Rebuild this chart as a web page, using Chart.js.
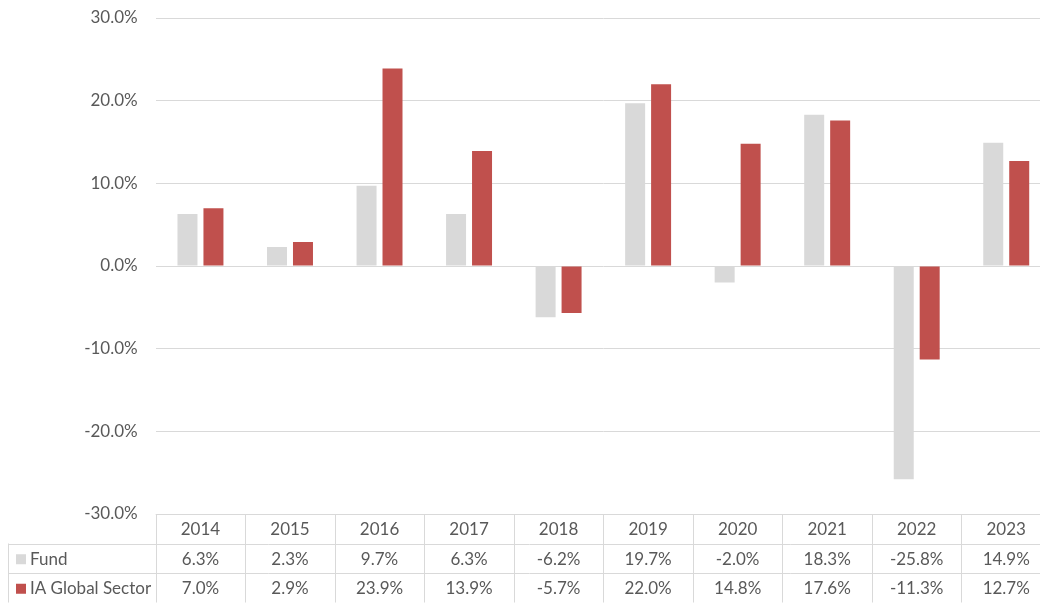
<!DOCTYPE html>
<html>
<head>
<meta charset="utf-8">
<script src="https://cdn.jsdelivr.net/npm/chart.js@4.4.0/dist/chart.umd.min.js"></script>
<style>
  html, body { margin: 0; padding: 0; background: #fff; overflow: hidden; }
  #wrap { position: relative; width: 1051px; height: 603px; }
</style>
</head>
<body>
<div id="wrap"><canvas id="perfChart"></canvas></div>
<script>
const years = ["2014", "2015", "2016", "2017", "2018", "2019", "2020", "2021", "2022", "2023"];
const fundReturns = [6.3, 2.3, 9.7, 6.3, -6.2, 19.7, -2.0, 18.3, -25.8, 14.9];
const sectorReturns = [7.0, 2.9, 23.9, 13.9, -5.7, 22.0, 14.8, 17.6, -11.3, 12.7];
const yTicks = [-30, -20, -10, 0, 10, 20, 30];

const FONT = "Lato, sans-serif";
const FONT_SIZE = 17;
const TEXT = "#595959";
const LINE = "#d9d9d9";
const FUND_COLOR = "#d9d9d9";
const SECTOR_COLOR = "#c0504d";

function pct(v) {
  return `${v.toFixed(1)}%`;
}

// Excel-style data table under the plot, aligned to the category scale
const dataTable = {
  id: "dataTable",
  afterDraw(chart) {
    const ctx = chart.ctx;
    const x = chart.scales.x;
    const area = chart.chartArea;
    const rowH = 29.5;
    const top = area.bottom;
    const left = 8;
    const step = x.getPixelForValue(1) - x.getPixelForValue(0);
    const rows = [
      { label: "Fund", color: FUND_COLOR, values: fundReturns },
      { label: "IA Global Sector", color: SECTOR_COLOR, values: sectorReturns },
    ];

    ctx.save();
    ctx.strokeStyle = LINE;
    ctx.lineWidth = 1;

    const hLine = (x0, x1, y) => {
      ctx.beginPath();
      ctx.moveTo(x0, Math.round(y) + 0.5);
      ctx.lineTo(x1, Math.round(y) + 0.5);
      ctx.stroke();
    };
    hLine(area.left, area.right, top);
    hLine(left, area.right, top + rowH);
    hLine(left, area.right, top + rowH * 2);
    hLine(left, area.right, top + rowH * 3);

    const vLine = (px, y0, y1) => {
      ctx.beginPath();
      ctx.moveTo(Math.round(px) + 0.5, y0);
      ctx.lineTo(Math.round(px) + 0.5, y1);
      ctx.stroke();
    };
    vLine(left, top + rowH, top + rowH * 3);
    for (let i = 0; i <= years.length; i++) {
      vLine(x.getPixelForValue(i) - step / 2, top, top + rowH * 3);
    }

    ctx.font = `${FONT_SIZE}px ${FONT}`;
    ctx.fillStyle = TEXT;
    ctx.textBaseline = "middle";
    ctx.textAlign = "center";
    years.forEach((yr, i) => {
      ctx.fillText(yr, x.getPixelForValue(i), top + rowH / 2 + 1);
    });

    rows.forEach((row, r) => {
      const cy = top + rowH * (r + 1) + rowH / 2 + 1;
      ctx.fillStyle = row.color;
      ctx.fillRect(16, cy - 5, 10, 10);
      ctx.fillStyle = TEXT;
      ctx.textAlign = "left";
      ctx.fillText(row.label, 30, cy);
      ctx.textAlign = "center";
      row.values.forEach((v, i) => {
        ctx.fillText(pct(v), x.getPixelForValue(i), cy);
      });
    });
    ctx.restore();
  },
};

const ctx = document.getElementById("perfChart").getContext("2d");
new Chart(ctx, {
  type: "bar",
  data: {
    labels: years,
    datasets: [
      {
        label: "Fund",
        data: fundReturns,
        backgroundColor: FUND_COLOR,
        categoryPercentage: 0.58,
        barPercentage: 0.77,
      },
      {
        label: "IA Global Sector",
        data: sectorReturns,
        backgroundColor: SECTOR_COLOR,
        categoryPercentage: 0.58,
        barPercentage: 0.77,
      },
    ],
  },
  plugins: [dataTable],
  options: {
    responsive: true,
    maintainAspectRatio: false,
    animation: false,
    layout: { padding: { top: 18, bottom: 89, right: 0, left: 0 } },
    plugins: {
      legend: { display: false },
      tooltip: { enabled: false },
    },
    scales: {
      x: { display: false },
      y: {
        min: -30,
        max: 30,
        afterFit(scale) {
          scale.width = 155.7;
          scale.paddingTop = 0;
          scale.paddingBottom = 0;
        },
        afterBuildTicks(scale) {
          scale.ticks = yTicks.map((v) => ({ value: v }));
        },
        border: { display: false },
        grid: { color: LINE, drawTicks: false, lineWidth: 1 },
        ticks: {
          padding: 18,
          color: TEXT,
          font: { family: FONT, size: FONT_SIZE },
          callback: (v) => pct(v),
        },
      },
    },
  },
});
</script>
</body>
</html>
